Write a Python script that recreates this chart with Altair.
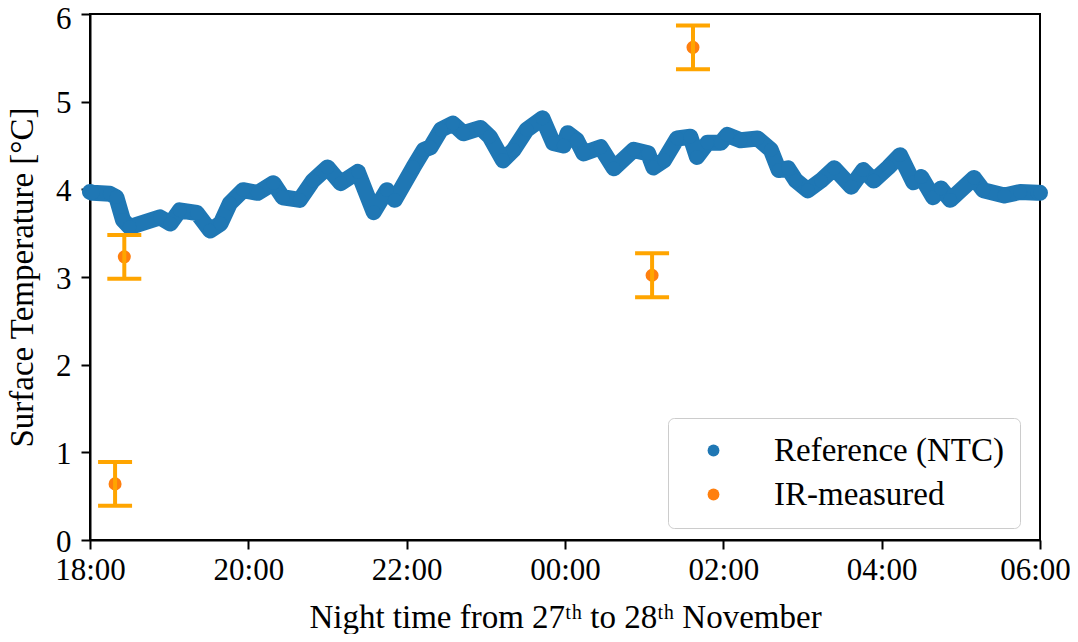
import altair as alt
import pandas as pd

# Reference (NTC) readings: clock time and surface temperature [°C]
ntc_time = ["18:00", "18:02", "18:15", "18:20", "18:25", "18:30", "18:53", "19:01", "19:08", "19:21",
            "19:31", "19:39", "19:46", "19:56", "20:07", "20:19", "20:26", "20:39", "20:49", "21:00",
            "21:10", "21:23", "21:35", "21:45", "21:51", "22:05", "22:13", "22:18", "22:26", "22:35",
            "22:43", "22:56", "23:03", "23:13", "23:21", "23:31", "23:43", "23:51", "23:59", "00:02",
            "00:09", "00:14", "00:27", "00:37", "00:52", "01:03", "01:07", "01:15", "01:25", "01:35",
            "01:40", "01:48", "01:58", "02:03", "02:13", "02:26", "02:36", "02:42", "02:49", "02:55",
            "03:04", "03:14", "03:24", "03:37", "03:46", "03:54", "04:05", "04:14", "04:24", "04:30",
            "04:39", "04:45", "04:52", "05:10", "05:17", "05:33", "05:45", "05:58", "06:00"]
ntc_temp = [3.97, 3.96, 3.95, 3.91, 3.65, 3.57, 3.68, 3.61, 3.76, 3.73,
            3.53, 3.61, 3.84, 3.99, 3.96, 4.07, 3.91, 3.88, 4.10, 4.25,
            4.07, 4.20, 3.74, 3.99, 3.88, 4.25, 4.45, 4.48, 4.68, 4.75,
            4.64, 4.70, 4.60, 4.33, 4.45, 4.68, 4.81, 4.53, 4.50, 4.64,
            4.56, 4.41, 4.48, 4.24, 4.45, 4.41, 4.25, 4.33, 4.58, 4.60,
            4.37, 4.53, 4.53, 4.62, 4.56, 4.58, 4.45, 4.22, 4.24, 4.10,
            3.99, 4.10, 4.24, 4.03, 4.22, 4.10, 4.25, 4.39, 4.08, 4.14,
            3.91, 4.01, 3.88, 4.13, 3.99, 3.93, 3.97, 3.96, 3.96]

# IR-measured points with their uncertainty
ir_time = ["18:19", "18:26", "01:06", "01:37"]
ir_temp = [0.64, 3.23, 3.02, 5.62]
ir_err = [0.25, 0.25, 0.25, 0.25]

tick_hours = [0, 2, 4, 6, 8, 10, 12]
series_names = ["Reference (NTC)", "IR-measured"]
series_colors = ["#1f77b4", "#ff7f0e"]


def hours_since_18(t):
    h, m = t.split(":")
    v = int(h) + int(m) / 60.0 - 18
    return v + 24 if v < 0 else v


ntc = pd.DataFrame({"t": [hours_since_18(t) for t in ntc_time], "temp": ntc_temp,
                    "series": series_names[0]})
ir = pd.DataFrame({"t": [hours_since_18(t) for t in ir_time], "temp": ir_temp,
                   "series": series_names[1]})
ir["lo"] = ir["temp"] - pd.Series(ir_err)
ir["hi"] = ir["temp"] + pd.Series(ir_err)

FONT = "Liberation Serif"
LFS = 31   # tick labels
TFS = 33   # axis titles / legend

x_enc = alt.X("t:Q", scale=alt.Scale(domain=[0, 12], nice=False, zero=False),
              axis=alt.Axis(values=tick_hours, labelFlush=False,
                            labelOffset={"condition": {"test": "datum.value == 12", "value": -5},
                                         "value": 0},
                            labelExpr="(((datum.value + 18) % 24) < 10 ? '0' : '') + ((datum.value + 18) % 24) + ':00'",
                            title="Night time from 27ᵗʰ to 28ᵗʰ November"))
y_enc = alt.Y("temp:Q", scale=alt.Scale(domain=[0, 6], nice=False),
              axis=alt.Axis(values=[0, 1, 2, 3, 4, 5, 6], format="d", labelFlush=False,
                            labelOffset={"condition": {"test": "datum.value == 6", "value": 5},
                                         "value": 2},
                            title="Surface Temperature [°C]"))

color_enc = alt.Color("series:N",
                      scale=alt.Scale(domain=series_names, range=series_colors),
                      legend=alt.Legend(title=None, orient="none", legendX=578, legendY=404,
                                        symbolType="circle", symbolSize=140,
                                        labelFont=FONT, labelFontSize=TFS, labelColor="black",
                                        strokeColor="#cccccc", fillColor="white",
                                        cornerRadius=6, padding=16, rowPadding=10,
                                        symbolOffset=13, labelOffset=44, labelLimit=400))

ntc_line = alt.Chart(ntc).mark_line(color="#1f77b4", strokeWidth=16, strokeCap="round",
                                    strokeJoin="round").encode(x=x_enc, y=y_enc)
ntc_pts = alt.Chart(ntc).mark_circle(size=190, opacity=1).encode(x="t:Q", y="temp:Q", color=color_enc)

ir_pts = alt.Chart(ir).mark_circle(size=170, opacity=1).encode(x="t:Q", y="temp:Q", color=color_enc)
ir_bar = alt.Chart(ir).mark_rule(color="#ffa500", strokeWidth=4).encode(x="t:Q", y="lo:Q", y2="hi:Q")
ir_cap_lo = alt.Chart(ir).mark_tick(color="#ffa500", orient="horizontal", size=34, thickness=4,
                                    opacity=1).encode(x="t:Q", y="lo:Q")
ir_cap_hi = alt.Chart(ir).mark_tick(color="#ffa500", orient="horizontal", size=34, thickness=4,
                                    opacity=1).encode(x="t:Q", y="hi:Q")

chart = alt.layer(ntc_line, ntc_pts, ir_pts, ir_bar, ir_cap_lo, ir_cap_hi).properties(
    width=950, height=526,
    autosize=alt.AutoSizeParams(type="none"),
    padding={"left": 82, "top": 6, "right": 30, "bottom": 94},
).configure_view(stroke="black", strokeWidth=2).configure_axis(
    labelFont=FONT, labelFontSize=LFS, labelColor="black",
    titleFont=FONT, titleFontSize=TFS, titleColor="black", titleFontWeight="normal",
    domainColor="black", domainWidth=2, tickColor="black", tickWidth=2, tickSize=9,
    grid=False,
).configure_axisY(titlePadding=16, labelPadding=10).configure_axisX(
    titlePadding=16, labelPadding=6)

chart.save("out.html", embed_options={"renderer": "svg", "actions": False})
